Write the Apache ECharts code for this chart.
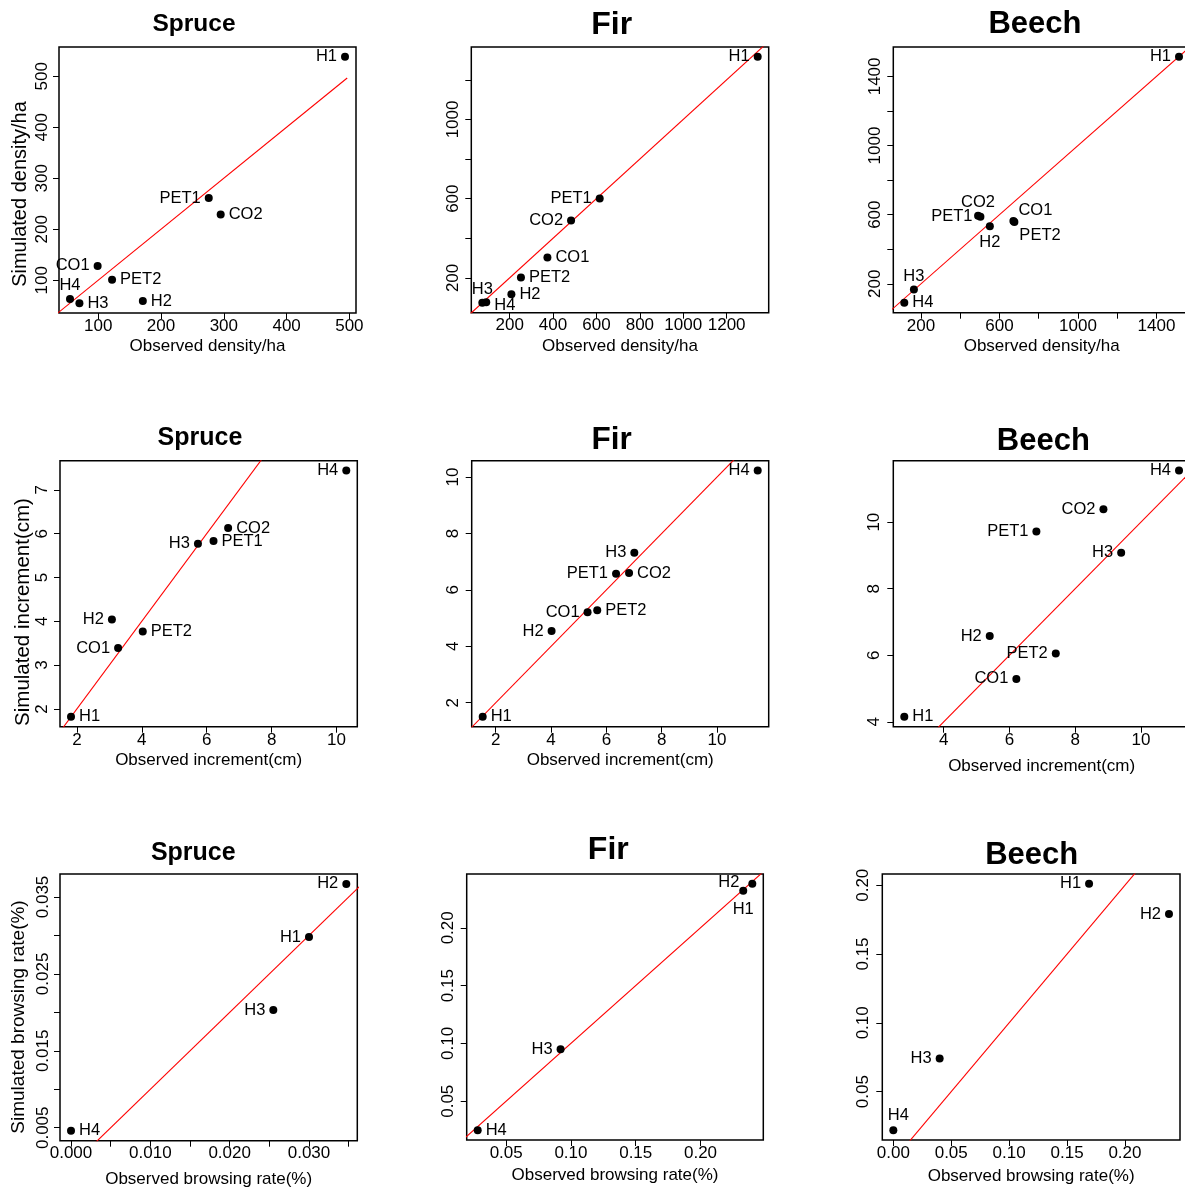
<!DOCTYPE html>
<html><head><meta charset="utf-8">
<script src="https://cdn.jsdelivr.net/npm/echarts@6/dist/echarts.min.js"></script>
<style>html,body{margin:0;padding:0;background:#fff}#c{width:1185px;height:1189px}</style>
</head><body><div id="c"></div>
<script>
// ---------------- DATA ----------------
// Row 1: stand density (observed vs simulated, trees/ha)
const spruceDensityNames = ['H1','PET1','CO2','CO1','PET2','H4','H3','H2'];
const spruceDensityObs   = [493, 276, 295, 99, 122, 55, 70, 171];
const spruceDensitySim   = [538, 261, 229, 128, 101, 63, 55, 59];

const firDensityNames = ['H1','PET1','CO2','CO1','PET2','H2','H3','H4'];
const firDensityObs   = [1343, 615, 483, 374, 252, 208, 74, 92];
const firDensitySim   = [1316, 601, 490, 303, 202, 118, 74, 77];

const beechDensityNames = ['H1','CO2','PET1','H2','CO1','PET2','H3','H4'];
const beechDensityObs   = [1515, 491, 503, 551, 671, 676, 164, 115];
const beechDensitySim   = [1513, 594, 588, 533, 564, 558, 167, 90];

// Row 2: increment (cm)
const spruceIncNames = ['H4','CO2','PET1','H3','H2','PET2','CO1','H1'];
const spruceIncObs   = [10.30, 6.66, 6.21, 5.73, 3.08, 4.03, 3.27, 1.82];
const spruceIncSim   = [7.44, 6.13, 5.83, 5.77, 4.04, 3.77, 3.39, 1.82];

const firIncNames = ['H4','H3','PET1','CO2','CO1','PET2','H2','H1'];
const firIncObs   = [11.47, 7.01, 6.35, 6.82, 5.32, 5.67, 4.02, 1.53];
const firIncSim   = [10.23, 7.32, 6.57, 6.60, 5.21, 5.28, 4.54, 1.50];

const beechIncNames = ['H4','CO2','PET1','H3','H2','PET2','CO1','H1'];
const beechIncObs   = [11.16, 8.86, 6.82, 9.40, 5.40, 7.41, 6.21, 2.80];
const beechIncSim   = [11.55, 10.39, 9.72, 9.08, 6.58, 6.05, 5.29, 4.15];

// Row 3: browsing rate (%)
const spruceBrowseNames = ['H2','H1','H3','H4'];
const spruceBrowseObs   = [0.0347, 0.0300, 0.0255, 0.0000];
const spruceBrowseSim   = [0.0367, 0.0298, 0.0203, 0.0046];

const firBrowseNames = ['H2','H1','H3','H4'];
const firBrowseObs   = [0.240, 0.233, 0.092, 0.028];
const firBrowseSim   = [0.238, 0.232, 0.095, 0.025];

const beechBrowseNames = ['H1','H2','H3','H4'];
const beechBrowseObs   = [0.169, 0.238, 0.040, 0.000];
const beechBrowseSim   = [0.201, 0.179, 0.074, 0.022];

// 1:1 reference line end values
const spruceDensityRef = [0, 496.5];
const fullRefDensity   = [0, 3000];
const fullRefInc       = [0, 30];
const fullRefBrowse    = [0, 1];

// Tick values (ticks / labelled ticks)
const spruceDensityXTicks = [100,200,300,400,500];
const spruceDensityYTicks = [100,200,300,400,500];
const firDensityXTicks = [200,400,600,800,1000,1200];
const firDensityYTicks = [200,400,600,800,1000,1200];
const firDensityYLabels = [200,600,1000];
const beechDensityTicks = [200,400,600,800,1000,1200,1400];
const beechDensityLabels = [200,600,1000,1400];
const spruceIncXTicks = [2,4,6,8,10];
const spruceIncYTicks = [2,3,4,5,6,7];
const firIncTicks = [2,4,6,8,10];
const beechIncTicks = [4,6,8,10];
const spruceBrowseXTicks = [0,0.005,0.010,0.015,0.020,0.025,0.030,0.035];
const spruceBrowseXLabels = [0,0.010,0.020,0.030];
const spruceBrowseYTicks = [0.005,0.010,0.015,0.020,0.025,0.030,0.035];
const spruceBrowseYLabels = [0.005,0.015,0.025,0.035];
const firBrowseTicks = [0.05,0.10,0.15,0.20];
const beechBrowseXTicks = [0,0.05,0.10,0.15,0.20];
const beechBrowseYTicks = [0.05,0.10,0.15,0.20];

const titles = ['Spruce','Fir','Beech','Spruce','Fir','Beech','Spruce','Fir','Beech'];
const xNames = ['Observed density/ha','Observed increment(cm)','Observed browsing rate(%)'];
const yNames = ['Simulated density/ha','Simulated increment(cm)','Simulated browsing rate(%)'];

// ---------------- LAYOUT / STYLE ----------------
const FONT = '"Liberation Sans", Arial, Helvetica, sans-serif';
const panels = [
  {names:spruceDensityNames,x:spruceDensityObs,y:spruceDensitySim,ref:spruceDensityRef,
   xt:spruceDensityXTicks,xl:spruceDensityXTicks,yt:spruceDensityYTicks,yl:spruceDensityYTicks,dec:0,
   box:[59,47,297,266], xm:5, xg:25, ym:8, xname:xNames[0],
   sides:['left','left','right','left','right','top','right','right'], offs:{}},
  {names:firDensityNames,x:firDensityObs,y:firDensitySim,ref:fullRefDensity,
   xt:firDensityXTicks,xl:firDensityXTicks,yt:firDensityYTicks,yl:firDensityYLabels,dec:0,
   box:[471.3,47,297.4,265.7], xm:4, xg:25, ym:9.5, xname:xNames[0],
   sides:['left','left','left','right','right','right','top','right'], offs:{7:[0,3]}},
  {names:beechDensityNames,x:beechDensityObs,y:beechDensitySim,ref:fullRefDensity,
   xt:beechDensityTicks,xl:beechDensityLabels,yt:beechDensityTicks,yl:beechDensityLabels,dec:0,
   box:[893.3,47,296.7,265.7], xm:5, xg:25.5, ym:9, xname:xNames[0],
   sides:['left','top','left','bottom','right','right','top','right'], offs:{4:[-3,-10],5:[-3,14]}},
  {names:spruceIncNames,x:spruceIncObs,y:spruceIncSim,ref:fullRefInc,
   xt:spruceIncXTicks,xl:spruceIncXTicks,yt:spruceIncYTicks,yl:spruceIncYTicks,dec:0,
   box:[60,460.7,297.3,266], xm:5.5, xg:25.5, ym:9, xname:xNames[1],
   sides:['left','right','right','left','left','right','left','right'], offs:{}},
  {names:firIncNames,x:firIncObs,y:firIncSim,ref:fullRefInc,
   xt:firIncTicks,xl:firIncTicks,yt:firIncTicks,yl:firIncTicks,dec:0,
   box:[471.7,460.7,297,266], xm:5, xg:25.5, ym:10, xname:xNames[1],
   sides:['left','left','left','right','left','right','left','right'], offs:{}},
  {names:beechIncNames,x:beechIncObs,y:beechIncSim,ref:fullRefInc,
   xt:beechIncTicks,xl:beechIncTicks,yt:beechIncTicks,yl:beechIncTicks,dec:0,
   box:[893.3,460.7,296.7,266], xm:5, xg:31.5, ym:10, xname:xNames[1],
   sides:['left','left','left','left','left','left','left','right'], offs:{}},
  {names:spruceBrowseNames,x:spruceBrowseObs,y:spruceBrowseSim,ref:fullRefBrowse,
   xt:spruceBrowseXTicks,xl:spruceBrowseXLabels,yt:spruceBrowseYTicks,yl:spruceBrowseYLabels,dec:3,
   box:[60,874,297.3,266.7], xm:4, xg:30, ym:8, xname:xNames[2],
   sides:['left','left','left','right'], offs:{}},
  {names:firBrowseNames,x:firBrowseObs,y:firBrowseSim,ref:fullRefBrowse,
   xt:firBrowseTicks,xl:firBrowseTicks,yt:firBrowseTicks,yl:firBrowseTicks,dec:2,
   box:[466.7,874,296.6,266], xm:5, xg:27, ym:10, xname:xNames[2],
   sides:['left','bottom','left','right'], offs:{0:[-5,-1],1:[0,2]}},
  {names:beechBrowseNames,x:beechBrowseObs,y:beechBrowseSim,ref:fullRefBrowse,
   xt:beechBrowseXTicks,xl:beechBrowseXTicks,yt:beechBrowseYTicks,yl:beechBrowseYTicks,dec:2,
   box:[882.3,874,297.7,266], xm:5, xg:28, ym:10.5, xname:xNames[2],
   sides:['left','left','left','top'], offs:{3:[5,-1]}}
];
const titlePos = [[194,24,24.5],[611.7,25,32],[1035,24.5,31],
                  [200,437.7,25],[611.7,440.5,31.5],[1043.3,441,31],
                  [193.3,852.7,25],[608.3,850,32],[1031.7,855.5,31]];
// y-axis titles: [x center, y center, font size]
const yTitlePos = [[20.5,194,20],[23.5,612,20.5],[19,1017,19]];

function rRange(arr){
  const mn = Math.min.apply(null, arr), mx = Math.max.apply(null, arr);
  const d = (mx - mn) * 0.04;
  return [mn - d, mx + d];
}

const grids = [], xAxes = [], yAxes = [], series = [], graphics = [];
panels.forEach((p, i) => {
  grids.push({left:p.box[0], top:p.box[1], width:p.box[2], height:p.box[3],
    show:true, borderColor:'#000', borderWidth:1.5, backgroundColor:'transparent',
    containLabel:false, outerBoundsMode:'none'});
  const xr = rRange(p.x), yr = rRange(p.y);
  const fmt = v => Number(v).toFixed(p.dec);
  xAxes.push({type:'value', gridIndex:i, min:xr[0], max:xr[1], scale:true, position:'bottom',
    axisLine:{show:false, onZero:false}, splitLine:{show:false},
    axisTick:{show:true, inside:false, length:6, customValues:p.xt, lineStyle:{color:'#000', width:1}},
    axisLabel:{show:true, customValues:p.xl, margin:p.xm, color:'#000', fontSize:17, fontFamily:FONT, formatter:fmt,
      showMinLabel:true, showMaxLabel:true, hideOverlap:false},
    name:p.xname, nameLocation:'middle', nameGap:p.xg,
    nameTextStyle:{color:'#000', fontSize:17, fontFamily:FONT}});
  yAxes.push({type:'value', gridIndex:i, min:yr[0], max:yr[1], scale:true, position:'left',
    axisLine:{show:false, onZero:false}, splitLine:{show:false},
    axisTick:{show:true, inside:false, length:6, customValues:p.yt, lineStyle:{color:'#000', width:1}},
    axisLabel:{show:true, customValues:p.yl, rotate:90, margin:p.ym, color:'#000', fontSize:17, fontFamily:FONT, formatter:fmt,
      showMinLabel:true, showMaxLabel:true, hideOverlap:false}});
  series.push({type:'line', xAxisIndex:i, yAxisIndex:i, clip:true, silent:true,
    symbol:'none', animation:false,
    lineStyle:{color:'#ff0000', width:1.1},
    data:[[p.ref[0], p.ref[0]], [p.ref[1], p.ref[1]]], z:2});
  series.push({type:'scatter', xAxisIndex:i, yAxisIndex:i, symbol:'circle', symbolSize:8,
    itemStyle:{color:'#000', opacity:1}, z:3, clip:false,
    data:p.names.map((n, k) => ({name:n, value:[p.x[k], p.y[k]],
      label:{show:true, position:p.sides[k], distance:(p.sides[k]==='top'?1:4),
        offset:p.offs[k] || [0,0], formatter:'{b}', color:'#000', fontSize:16.5, fontFamily:FONT}}))});
  const t = titlePos[i];
  graphics.push({type:'text', x:t[0], y:t[1], silent:true,
    style:{text:titles[i], fill:'#000', font:'bold ' + t[2] + 'px ' + FONT, textAlign:'center', textVerticalAlign:'middle'}});
});
yNames.forEach((n, r) => {
  const t = yTitlePos[r];
  graphics.push({type:'text', x:t[0], y:t[1], rotation:Math.PI/2, silent:true,
    style:{text:n, fill:'#000', font:t[2] + 'px ' + FONT, textAlign:'center', textVerticalAlign:'middle'}});
});

const chart = echarts.init(document.getElementById('c'), null, {renderer:'canvas'});
chart.setOption({
  animation:false,
  backgroundColor:'#fff',
  grid:grids, xAxis:xAxes, yAxis:yAxes, series:series,
  graphic:graphics
});
</script></body></html>
